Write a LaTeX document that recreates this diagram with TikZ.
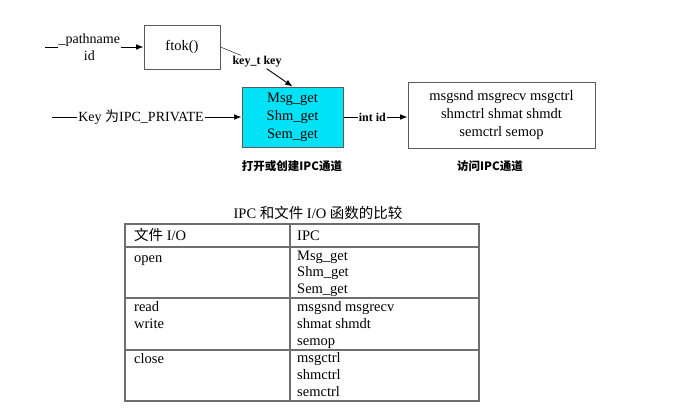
\documentclass[tikz,border=0pt]{standalone}
\usepackage{fontspec}
\setmainfont{Liberation Serif}
\newfontfamily\cjk{Noto Sans CJK SC}
\usetikzlibrary{arrows.meta,positioning}
\definecolor{boxline}{HTML}{5A5A5A}
\definecolor{getfill}{HTML}{00E3F7}
\definecolor{gridline}{HTML}{6E6E6E}
\tikzset{
  callbox/.style={draw=boxline,line width=1pt,align=center,font=\fontsize{14.5}{18}\selectfont},
  arrow/.style={-{Latex[length=2.6mm,width=2mm]},line width=0.9pt},
  linelabel/.style={fill=white,inner sep=1pt,align=center,font=\fontsize{14}{16.5}\selectfont},
  boldlabel/.style={fill=white,inner sep=1pt,font=\fontsize{12}{14}\selectfont\bfseries},
  caption/.style={font=\fontsize{11.5}{13}\selectfont\cjk\bfseries},
  cell/.style={anchor=west,inner sep=0pt,text height=10pt,text depth=3pt,font=\fontsize{14.5}{17}\selectfont},
  grid/.style={draw=gridline,line width=1.2pt}
}
\begin{document}
\begin{tikzpicture}[x=1pt,y=-1pt]
  \useasboundingbox (0,0) rectangle (682,407);

  % calls
  \node[callbox,minimum width=76pt,minimum height=44pt] (ftok) at (182,47) {ftok()};
  \node[callbox,fill=getfill,minimum width=101pt,minimum height=60pt] (ipcget) at (292.5,117) {Msg\_get\\Shm\_get\\Sem\_get};
  \node[callbox,minimum width=187pt,minimum height=66pt] (ipcuse) at (501.5,115) {msgsnd msgrecv msgctrl\\shmctrl shmat shmdt\\semctrl semop};

  \coordinate (pathin) at (45,47);
  \coordinate (keyin) at (52,117);
  \node[boldlabel] (keyt) at (257,62) {key\_t key};

  \draw[arrow] (pathin) -- (ftok) node[linelabel,pos=0.45] {\_pathname\\id};
  \draw[arrow] (keyin) -- (ipcget) node[linelabel,pos=0.47] {Key {\cjk 为}IPC\_PRIVATE};
  \draw (ftok.east) -- (keyt);
  \draw[arrow] (keyt) -- (ipcget.north);
  \draw[arrow] (ipcget.east) -- (ipcuse.west |- ipcget.east) node[boldlabel,pos=0.45] {int id};

  \node[caption] (opencap) at (292,166) {打开或创建IPC通道};
  \node[caption] (usecap) at (490,166) {访问IPC通道};

  % comparison table
  \node[font=\fontsize{14.5}{16}\selectfont] (tabtitle) at (318,213) {IPC {\cjk 和文件} I/O {\cjk 函数的比较}};
  \draw[grid] (125,224) rectangle (479,401);
  \draw[grid] (290,224) -- (290,401);
  \foreach \y in {247,298,350}
    \draw[grid] (125,\y) -- (479,\y);

  \node[cell] (fileio) at (134,237) {{\cjk 文件} I/O};
  \node[cell] (ipchead) at (297,237) {IPC};
  \foreach \t/\y [count=\i] in {open/259,read/308,write/325,close/360}
    \node[cell] (left\i) at (134,\y) {\t};
  \foreach \t/\y [count=\i] in {Msg\_get/257,Shm\_get/273,Sem\_get/290,msgsnd msgrecv/308,shmat shmdt/325,semop/342,msgctrl/359,shmctrl/376,semctrl/393}
    \node[cell] (right\i) at (297,\y) {\t};
\end{tikzpicture}
\end{document}
